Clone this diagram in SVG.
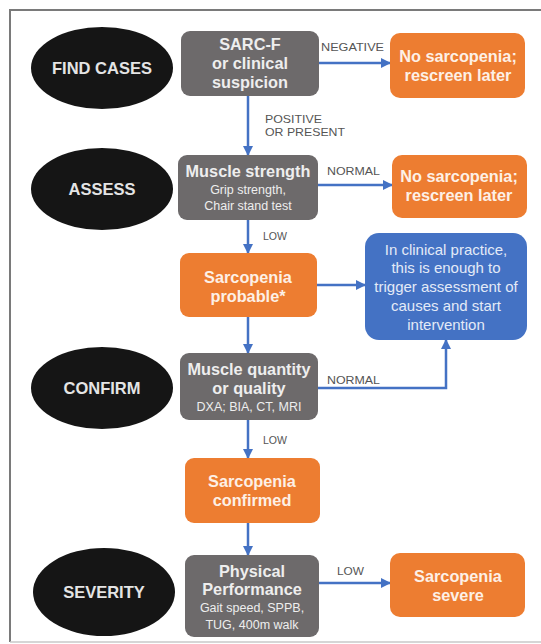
<svg xmlns="http://www.w3.org/2000/svg" width="541" height="644" viewBox="0 0 541 644">
<defs>
<marker id="ah" markerWidth="10" markerHeight="10" refX="9" refY="5" orient="auto" markerUnits="userSpaceOnUse">
<path d="M0,0 L10,5 L0,10 Z" fill="#4472c4"/>
</marker>
<style>
.stage{fill:#151515}
.stxt{font-family:"Liberation Sans",Arial,sans-serif;font-weight:bold;font-size:16.5px;fill:#e4e4e4;text-anchor:middle}
.gray{fill:#6d6a6b}
.orange{fill:#ed7d31}
.blue{fill:#4472c4}
.b{font-family:"Liberation Sans",Arial,sans-serif;font-weight:bold;font-size:16.3px;text-anchor:middle}
.s{font-family:"Liberation Sans",Arial,sans-serif;font-size:12.5px;text-anchor:middle}
.gt{fill:#eeeeee}
.ot{fill:#fdf0e6}
.bt{font-family:"Liberation Sans",Arial,sans-serif;font-size:15px;fill:#e3eaf7;text-anchor:middle}
.lbl{font-family:"Liberation Sans",Arial,sans-serif;font-size:11px;fill:#555}
.con{stroke:#4472c4;stroke-width:2.5;fill:none}
</style>
</defs>
<rect width="541" height="644" fill="#ffffff"/>
<path d="M10,642 L10,10 L541,10" fill="none" stroke="#7a7a7a" stroke-width="2"/>
<path d="M10,642 L541,642" fill="none" stroke="#c8c8c8" stroke-width="1.5"/>

<g id="connectors">
<path class="con" d="M248,96 L248,155" marker-end="url(#ah)"/>
<path class="con" d="M248,220 L248,253" marker-end="url(#ah)"/>
<path class="con" d="M248,317 L248,353" marker-end="url(#ah)"/>
<path class="con" d="M248,420 L248,458" marker-end="url(#ah)"/>
<path class="con" d="M248,523 L248,555" marker-end="url(#ah)"/>
<path class="con" d="M319,63 L390,63" marker-end="url(#ah)"/>
<path class="con" d="M318,185 L392,185" marker-end="url(#ah)"/>
<path class="con" d="M317,285 L365,285" marker-end="url(#ah)"/>
<path class="con" d="M318,388 L446,388 L446,340" marker-end="url(#ah)"/>
<path class="con" d="M319,583 L390,583" marker-end="url(#ah)"/>
<text class="lbl" x="321" y="51" textLength="63" lengthAdjust="spacingAndGlyphs">NEGATIVE</text>
<text class="lbl" x="265" y="123" textLength="57" lengthAdjust="spacingAndGlyphs">POSITIVE</text>
<text class="lbl" x="265" y="136" textLength="80" lengthAdjust="spacingAndGlyphs">OR PRESENT</text>
<text class="lbl" x="327" y="175" textLength="53" lengthAdjust="spacingAndGlyphs">NORMAL</text>
<text class="lbl" x="263" y="240" textLength="24" lengthAdjust="spacingAndGlyphs">LOW</text>
<text class="lbl" x="327" y="384" textLength="53" lengthAdjust="spacingAndGlyphs">NORMAL</text>
<text class="lbl" x="263" y="444" textLength="24" lengthAdjust="spacingAndGlyphs">LOW</text>
<text class="lbl" x="337" y="575" textLength="27" lengthAdjust="spacingAndGlyphs">LOW</text>
</g>

<g id="find-cases">
<ellipse class="stage" cx="102" cy="68" rx="71" ry="41"/>
<text class="stxt" x="102" y="74">FIND CASES</text>
</g>
<g id="assess">
<ellipse class="stage" cx="102" cy="189" rx="71" ry="41"/>
<text class="stxt" x="102" y="195">ASSESS</text>
</g>
<g id="confirm">
<ellipse class="stage" cx="102" cy="388" rx="71" ry="41"/>
<text class="stxt" x="102" y="394">CONFIRM</text>
</g>
<g id="severity">
<ellipse class="stage" cx="104" cy="592" rx="71" ry="44"/>
<text class="stxt" x="104" y="598">SEVERITY</text>
</g>

<g id="sarcf">
<rect class="gray" x="181" y="31" width="138" height="65" rx="9"/>
<text class="b gt" x="250" y="50">SARC-F</text>
<text class="b gt" x="250" y="69">or clinical</text>
<text class="b gt" x="250" y="88">suspicion</text>
</g>
<g id="muscle-strength">
<rect class="gray" x="178" y="155" width="140" height="65" rx="9"/>
<text class="b gt" x="248" y="177">Muscle strength</text>
<text class="s gt" x="248" y="194">Grip strength,</text>
<text class="s gt" x="248" y="210">Chair stand test</text>
</g>
<g id="probable">
<rect class="orange" x="180" y="253" width="137" height="64" rx="9"/>
<text class="b ot" x="248" y="283">Sarcopenia</text>
<text class="b ot" x="248" y="302">probable*</text>
</g>
<g id="muscle-quantity">
<rect class="gray" x="180" y="353" width="138" height="67" rx="9"/>
<text class="b gt" x="249" y="375">Muscle quantity</text>
<text class="b gt" x="249" y="394">or quality</text>
<text class="s gt" x="249" y="411">DXA; BIA, CT, MRI</text>
</g>
<g id="confirmed">
<rect class="orange" x="185" y="458" width="135" height="65" rx="9"/>
<text class="b ot" x="252" y="487">Sarcopenia</text>
<text class="b ot" x="252" y="506">confirmed</text>
</g>
<g id="physical">
<rect class="gray" x="185" y="555" width="134" height="82" rx="9"/>
<text class="b gt" x="252" y="577">Physical</text>
<text class="b gt" x="252" y="595">Performance</text>
<text class="s gt" x="252" y="612">Gait speed, SPPB,</text>
<text class="s gt" x="252" y="629">TUG, 400m walk</text>
</g>
<g id="no-sarc-1">
<rect class="orange" x="390" y="33" width="135" height="65" rx="10"/>
<text class="b ot" x="458" y="62">No sarcopenia;</text>
<text class="b ot" x="458" y="81">rescreen later</text>
</g>
<g id="no-sarc-2">
<rect class="orange" x="392" y="155" width="135" height="63" rx="10"/>
<text class="b ot" x="459" y="182">No sarcopenia;</text>
<text class="b ot" x="459" y="201">rescreen later</text>
</g>
<g id="clinical-practice">
<rect class="blue" x="365" y="233" width="162" height="107" rx="14"/>
<text class="bt" x="446" y="255">In clinical practice,</text>
<text class="bt" x="446" y="273">this is enough to</text>
<text class="bt" x="446" y="292">trigger assessment of</text>
<text class="bt" x="446" y="311">causes and start</text>
<text class="bt" x="446" y="330">intervention</text>
</g>
<g id="severe">
<rect class="orange" x="390" y="553" width="135" height="64" rx="10"/>
<text class="b ot" x="458" y="582">Sarcopenia</text>
<text class="b ot" x="458" y="601">severe</text>
</g>
</svg>
